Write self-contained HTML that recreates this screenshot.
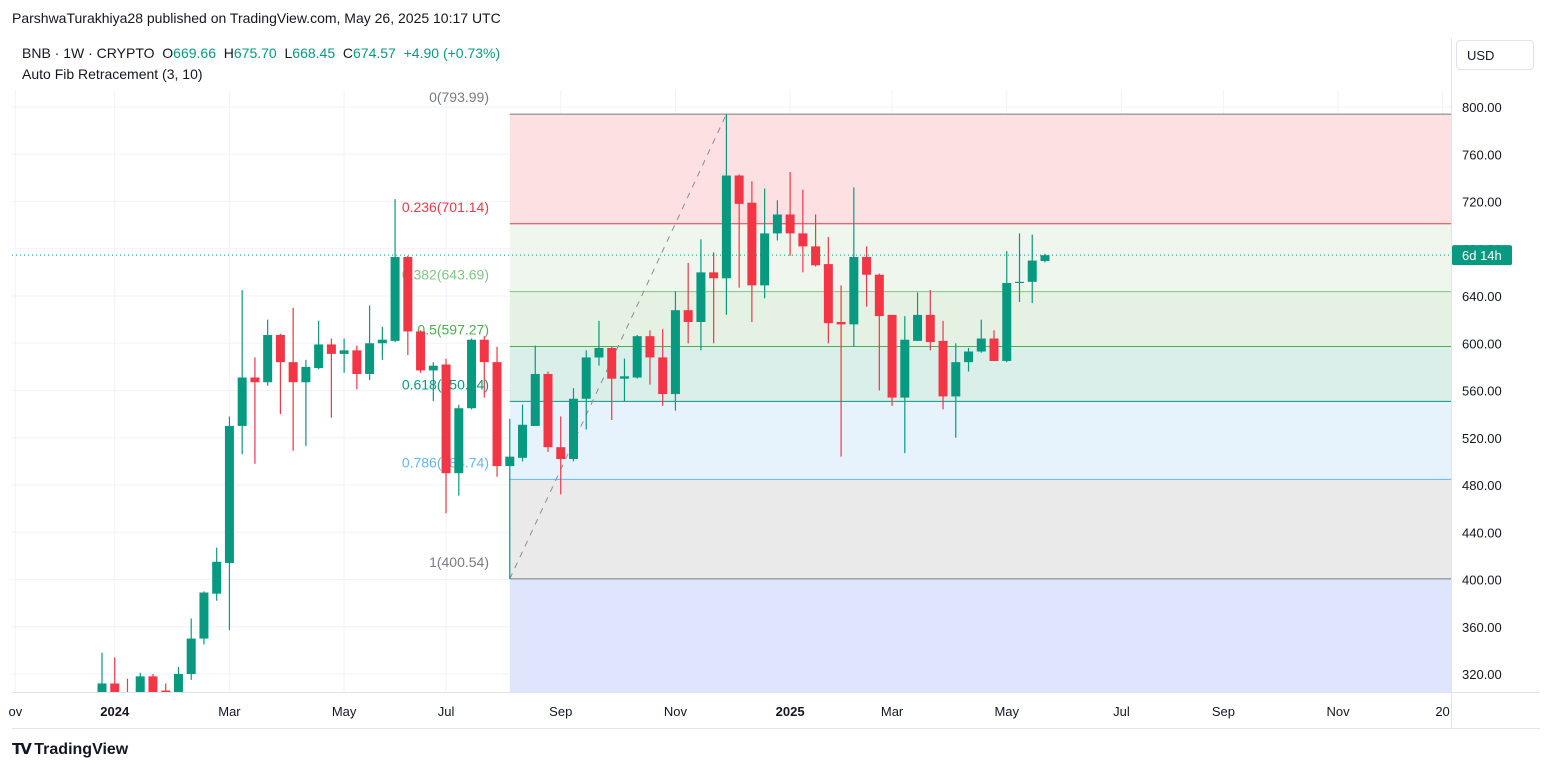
<!DOCTYPE html>
<html><head><meta charset="utf-8"><style>
body{margin:0;width:1554px;height:772px;background:#fff;font-family:"Liberation Sans",sans-serif;overflow:hidden;position:relative;color:#131722}
.t{position:absolute;white-space:nowrap}
</style></head><body>
<div class="t" style="left:12px;top:10px;font-size:14px">ParshwaTurakhiya28 published on TradingView.com, May 26, 2025 10:17 UTC</div>
<div class="t" style="left:22px;top:45px;font-size:14px">BNB · 1W · CRYPTO&nbsp; O<span style="color:#089981">669.66</span>&nbsp; H<span style="color:#089981">675.70</span>&nbsp; L<span style="color:#089981">668.45</span>&nbsp; C<span style="color:#089981">674.57</span>&nbsp; <span style="color:#089981">+4.90 (+0.73%)</span></div>
<div class="t" style="left:22px;top:66px;font-size:14px">Auto Fib Retracement (3, 10)</div>
<div class="t" style="left:1456px;top:40px;width:78px;height:30px;border:1px solid #e0e3eb;border-radius:4px;font-size:13px;line-height:30px;box-sizing:border-box;padding-left:10px">USD</div>
<svg id="c" width="1554" height="772" style="position:absolute;left:0;top:0"></svg>
<div class="t" style="left:12px;top:740px;font-size:16px;font-weight:bold"><span style="font-size:15px;letter-spacing:-2px">𝗧𝗩</span> TradingView</div>
<script>
const opens=[300,312,300,300,318,306,304,320,350,388,414,530,571,567,607,584,567,579,599,591,594,574,600,602,673,610,577,582,490,545,603,584,496,503,530,574,512,502,553,588,596,570,571,606,588,557,628,618,660,655,742,719,649,693,709,693,682,667,618,616,673,658,624,554,602,624,602,555,584,593,604,585,651,652,669.66];
const highs=[338,334,316,321,320,312,326,367,390,427,538,645,588,620,608,630,586,619,604,604,598,632,614,722,674,611,584,587,548,604,606,597,536,548,598,576,538,562,594,619,597,587,607,611,612,644,668,688,677,794,743,737,731,721,745,730,709,690,649,732,682,659,624,623,643,645,619,600,596,620,611,678,693,692,675.7];
const lows=[295,295,285,295,295,300,300,315,345,382,357,506,498,564,540,509,513,578,537,575,561,569,586,601,590,575,551,456,471,544,554,487,400.54,500,530,508,472,500,527,581,535,551,570,565,547,543,600,594,600,624,647,618,638,687,674,660,665,600,504,597,631,560,547,507,602,594,544,520,576,592,585,584,635,634,668.45];
const closes=[312,300,290,318,302,304,320,350,389,415,530,571,567,607,584,567,580,599,591,594,574,600,603,673,610,577,581,490,545,603,584,496,504,531,574,512,502,553,588,596,570,572,606,588,557,628,618,660,655,742,718,649,693,709,693,682,666,617,616,673,658,623,554,603,624,601,555,584,593,604,585,651,652,670,674.57];
const priceTicks=[320,360,400,440,480,520,560,600,640,680,720,760,800];
const monthLabels=["ov","2024","Mar","May","Jul","Sep","Nov","2025","Mar","May","Jul","Sep","Nov","20"];
const monthWeeks=[-6.8,1,10,19,27,36,45,54,62,71,80,88,97,105.2];
const fibLevels=[0,0.236,0.382,0.5,0.618,0.786,1];
const fibLabels=["0(793.99)","0.236(701.14)","0.382(643.69)","0.5(597.27)","0.618(550.84)","0.786(484.74)","1(400.54)"];
const fibHigh=793.99, fibLow=400.54, lastPrice=674.57;
const fibLine=["#787b86","#f23645","#81c784","#4caf50","#089981","#64b5f6","#787b86"];
const fibFill=["#fde1e2","#eef6ed","#e5f2e3","#daeeea","#e7f3fc","#eaeaeb","#dfe5fc"];
const NS="http://www.w3.org/2000/svg";
const svg=document.getElementById('c');
const L=12,R=1451,T=90,B=692;
const xOf=i=>102+i*12.743;
const yOf=v=>107+(800-v)*1.18125;
function mk(tag,at,parent){const e=document.createElementNS(NS,tag);for(const k in at)e.setAttribute(k,at[k]);(parent||svg).appendChild(e);return e;}
const defs=mk('defs',{});const cp=mk('clipPath',{id:'clip'},defs);mk('rect',{x:L,y:T,width:R-L,height:B-T},cp);
const plot=mk('g',{'clip-path':'url(#clip)'});
priceTicks.forEach(p=>{const l=mk('line',{x1:L,x2:R,y1:yOf(p),y2:yOf(p),stroke:'#f0f3fa'},plot);

});
monthWeeks.forEach(w=>{const l=mk('line',{x1:xOf(w),x2:xOf(w),y1:T,y2:B,stroke:'#f0f3fa'},plot);

});
const fx1=xOf(32);
const fibVal=f=>fibHigh-f*(fibHigh-fibLow);
for(let k=0;k<fibLevels.length;k++){
 const y1=yOf(fibVal(fibLevels[k]));const y2=k<fibLevels.length-1?yOf(fibVal(fibLevels[k+1])):B;
 const r=mk('rect',{x:fx1,y:y1,width:R-fx1,height:y2-y1,fill:fibFill[k]},plot);
 
 
}
fibLevels.forEach((f,k)=>{const y=yOf(fibVal(f));
 const l=mk('line',{x1:fx1,x2:R,y1:y,y2:y,stroke:fibLine[k],'stroke-width':1},plot);
 
 
 const t=mk('text',{x:489,y:y-12,'text-anchor':'end','font-size':14,fill:fibLine[k],'font-family':'Liberation Sans'},plot);
 t.textContent=fibLabels[k];
 
 
});
const tr=mk('line',{x1:fx1,y1:yOf(fibLow),x2:xOf(49),y2:yOf(fibHigh),stroke:'#8a8d96','stroke-dasharray':'6,6'},plot);


const lp=mk('line',{x1:L,x2:R,y1:yOf(lastPrice),y2:yOf(lastPrice),stroke:'#089981','stroke-dasharray':'1,3'},plot);


for(let i=0;i<opens.length;i++){
 const up=closes[i]>=opens[i];const col=up?'#089981':'#f23645';const x=xOf(i);
 const g=mk('g',{},plot);
 
 
 mk('line',{x1:x,x2:x,y1:yOf(highs[i]),y2:yOf(lows[i]),stroke:col,'stroke-width':1.2},g);
 const yt=yOf(Math.max(opens[i],closes[i])),yb=yOf(Math.min(opens[i],closes[i]));
 mk('rect',{x:x-4.5,y:yt,width:9,height:Math.max(1,yb-yt),fill:col},g);
}
mk('line',{x1:R+0.5,x2:R+0.5,y1:38,y2:728,stroke:'#e0e3eb'});
mk('line',{x1:L,x2:1540,y1:B+0.5,y2:B+0.5,stroke:'#e0e3eb'});
mk('line',{x1:L,x2:1540,y1:728.5,y2:728.5,stroke:'#e0e3eb'});
priceTicks.forEach(p=>{const t=mk('text',{x:1462,y:yOf(p)+5,'font-size':13,fill:'#131722','font-family':'Liberation Sans'});
 t.textContent=p.toFixed(2);
 
 });
const pb=mk('rect',{x:1452,y:yOf(lastPrice)-10,width:60,height:20,fill:'#089981',rx:2});


const pt=mk('text',{x:1462,y:yOf(lastPrice)+5,'font-size':13,fill:'#fff','font-family':'Liberation Sans'});pt.textContent='6d 14h';


monthLabels.forEach((m,k)=>{const bold=/^\d{4}$/.test(m);
 const t=mk('text',{x:xOf(monthWeeks[k]),y:716,'text-anchor':'middle','font-size':13,'font-weight':bold?'bold':'normal',fill:'#131722','font-family':'Liberation Sans'});
 t.textContent=m;
 
 });
</script>
</body></html>
